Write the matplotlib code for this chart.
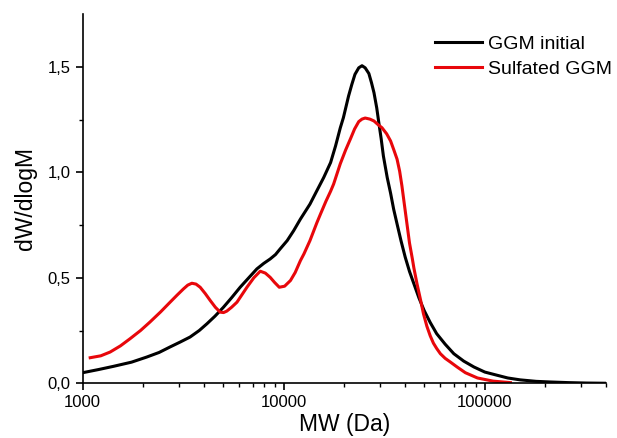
import matplotlib

matplotlib.use("Agg")
import matplotlib.pyplot as plt
from matplotlib.ticker import FixedLocator, FuncFormatter, NullFormatter

plt.rcParams["font.family"] = ["Liberation Sans", "DejaVu Sans"]

# GGM initial (molecular weight in Da, dW/dlogM)
mw_initial = [
    1000, 1200, 1420, 1750, 2080, 2400, 2720, 3050, 3420, 3800, 4150,
    4550, 5010, 5500, 6070, 6700, 7350, 7950, 8560, 9100, 9600, 10400,
    11200, 12100, 13500, 14600, 15800, 17100, 18100, 19100, 19800, 21000,
    21800, 22600, 23600, 24500, 25400, 26500, 27300, 28100, 29000, 29700,
    30500, 31300, 32700, 34000, 35200, 36600, 38300, 40200, 42200, 44400,
    47000, 49900, 53500, 57600, 63500, 70100, 78500, 88300, 100000, 115000,
    130000, 150000, 180000, 212000, 260000, 320000, 400000,
]
dw_initial = [
    0.050, 0.065, 0.080, 0.100, 0.124, 0.146, 0.172, 0.195, 0.219, 0.250, 0.282,
    0.318, 0.360, 0.405, 0.455, 0.500, 0.542, 0.568, 0.589, 0.610, 0.637, 0.676,
    0.723, 0.778, 0.849, 0.912, 0.975, 1.046, 1.125, 1.210, 1.259, 1.361,
    1.416, 1.464, 1.495, 1.505, 1.495, 1.468, 1.425, 1.377, 1.305, 1.235,
    1.160, 1.077, 0.975, 0.900, 0.825, 0.755, 0.675, 0.597, 0.530, 0.471,
    0.405, 0.345, 0.288, 0.235, 0.185, 0.140, 0.105, 0.077, 0.053, 0.038,
    0.025, 0.016, 0.009, 0.006, 0.003, 0.001, 0.000,
]

# Sulfated GGM
mw_sulfated = [
    1090, 1230, 1370, 1540, 1720, 1940, 2160, 2440, 2720, 2950, 3170,
    3330, 3490, 3660, 3840, 4070, 4310, 4570, 4830, 5020, 5210, 5500,
    5850, 6200, 6560, 7100, 7640, 8100, 8560, 9000, 9500, 10100, 10800,
    11400, 12100, 12600, 13500, 14600, 15200, 16200, 17100, 17700, 19100,
    20300, 21500, 22500, 23600, 24500, 25400, 26800, 28100, 29500, 30800,
    32500, 34000, 35300, 36600, 37700, 38700, 39700, 41000, 42200, 43600,
    44400, 46000, 47900, 49500, 51500, 53500, 55500, 57600, 60100, 63500,
    67500, 72800, 80000, 91900, 110000, 134000,
]
dw_sulfated = [
    0.121, 0.130, 0.148, 0.177, 0.211, 0.250, 0.290, 0.338, 0.384, 0.418, 0.447,
    0.465, 0.474, 0.470, 0.455, 0.425, 0.392, 0.360, 0.337, 0.335, 0.342, 0.360,
    0.384, 0.420, 0.455, 0.500, 0.531, 0.522, 0.502, 0.478, 0.455, 0.460, 0.487,
    0.525, 0.581, 0.613, 0.676, 0.760, 0.800, 0.862, 0.910, 0.944, 1.040,
    1.105, 1.160, 1.205, 1.240, 1.252, 1.257, 1.252, 1.243, 1.225, 1.211,
    1.182, 1.148, 1.105, 1.062, 1.005, 0.935, 0.855, 0.755, 0.665, 0.590,
    0.545, 0.471, 0.395, 0.330, 0.270, 0.225, 0.190, 0.165, 0.140, 0.118,
    0.100, 0.077, 0.050, 0.025, 0.010, 0.003,
]

fig = plt.figure(figsize=(6.17, 4.38), dpi=100)
ax = fig.add_axes([0.134, 0.125, 0.848, 0.843])

ax.plot(mw_initial, dw_initial, color="black", linewidth=2.2, label="GGM initial")
ax.plot(mw_sulfated, dw_sulfated, color="#e8070b", linewidth=2.2, label="Sulfated GGM")

ax.set_xscale("log")
ax.set_xlim(1000, 400000)
ax.set_ylim(0, 1.75)

ax.xaxis.set_major_locator(FixedLocator([1000, 10000, 100000]))
ax.xaxis.set_major_formatter(FuncFormatter(lambda v, _: f"{v:.0f}"))
minor_x = [m * d for d in (1000, 10000, 100000) for m in range(2, 10)]
ax.xaxis.set_minor_locator(FixedLocator([v for v in minor_x if v <= 400000]))
ax.xaxis.set_minor_formatter(NullFormatter())

ax.yaxis.set_major_locator(FixedLocator([0.0, 0.5, 1.0, 1.5]))
ax.yaxis.set_minor_locator(FixedLocator([0.25, 0.75, 1.25]))
ax.yaxis.set_major_formatter(FuncFormatter(lambda v, _: f"{v:.1f}".replace(".", ",")))

for side in ("top", "right"):
    ax.spines[side].set_visible(False)
for side in ("left", "bottom"):
    ax.spines[side].set_linewidth(1.2)

ax.tick_params(which="major", direction="out", length=5, width=1.2, labelsize=12)
ax.tick_params(which="minor", direction="out", length=3, width=1.0)

ax.set_xlabel("MW (Da)", fontsize=16.5, labelpad=2)
ax.set_ylabel("dW/dlogM", fontsize=16.5, labelpad=8)

ax.legend(
    loc="upper right",
    bbox_to_anchor=(1.045, 0.99),
    frameon=False,
    fontsize=14,
    handlelength=2.4,
    handletextpad=0.3,
    labelspacing=0.4,
)

fig.savefig("out.png", dpi=100)
